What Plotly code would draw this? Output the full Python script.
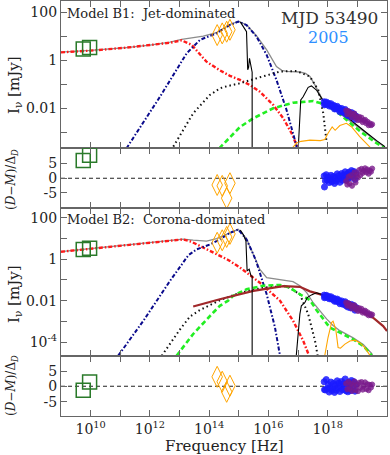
import plotly.graph_objects as go
from plotly.subplots import make_subplots

# ---------------- data (log10 frequency [Hz], log10 flux [mJy]) ----------------
# Model B1 components
red_b1_x = [9.0, 10.0, 11.2, 12.0, 12.68, 13.07, 13.41, 13.65, 13.91, 14.36, 14.70, 15.04, 15.4, 15.71, 16.16, 16.50, 16.78, 16.97, 17.05]
red_b1_y = [0.33, 0.40, 0.525, 0.62, 0.73, 0.83, 0.64, 0.30, -0.06, -0.42, -0.65, -0.82, -1.05, -1.31, -1.86, -2.42, -3.04, -3.6, -3.9]
blue_b1_x = [11.21, 12.34, 13.24, 13.69, 14.25, 14.5, 14.70, 14.98, 15.26, 15.60, 15.94, 16.27, 16.61, 16.89, 16.97]
blue_b1_y = [-3.67, -1.52, 0.29, 0.85, 1.125, 1.30, 1.47, 1.61, 1.47, 0.98, 0.22, -0.82, -2.07, -3.32, -3.7]
dot_b1_x = [12.79, 13.46, 14.02, 14.36, 14.64, 15.04, 15.71, 16.39, 16.95, 17.40, 17.68, 17.85, 17.96]
dot_b1_y = [-3.6, -2.21, -1.45, -1.17, -1.07, -0.96, -0.71, -0.47, -0.45, -0.68, -1.24, -2.21, -3.4]
green_b1_x = [14.34, 15.04, 15.49, 16.16, 16.83, 17.51, 17.96, 18.41, 19.08, 19.65, 19.93]
green_b1_y = [-3.67, -2.78, -2.42, -2.0, -1.77, -1.70, -1.86, -2.25, -2.95, -3.46, -3.67]
gray_b1_x = [9.0, 10.0, 11.2, 12.0, 12.68, 13.07, 13.41, 13.8, 14.25, 14.5, 14.70, 14.98, 15.26, 15.60, 15.94,
             16.27, 16.45, 16.61, 17.06, 17.25, 17.40, 17.6, 17.74, 17.9, 18.2, 18.52, 19.08, 19.65, 19.93]
gray_b1_y = [0.34, 0.41, 0.53, 0.63, 0.76, 0.87, 0.93, 1.01, 1.15, 1.32, 1.49, 1.62, 1.48, 1.01, 0.43,
             -0.26, -0.42, -0.46, -0.49, -0.55, -0.68, -1.1, -1.45, -1.77, -2.0, -2.32, -2.83, -3.39, -3.62]
black_b1_x = [15.05, 15.2, 15.26, 15.30, 15.33, 15.36, 15.43, 15.45, 15.45, None,
              17.0, 17.06, 17.09, 17.17, 17.34, 17.45, 17.62, 17.79, 17.90, 18.52, 18.86, 19.31, 19.65, 19.93]
black_b1_y = [1.60, 1.30, 1.19, -0.40, -0.30, 0.08, -0.47, -0.50, -3.8, None,
              -3.8, -2.07, -1.65, -1.52, -1.13, -1.07, -1.24, -1.58, -1.80, -2.24, -2.56, -3.02, -3.35, -3.6]
orange_b1_x = [16.78, 16.95, 17.1, 17.4, 17.75, 17.9, 18.01, 18.15, 18.25, 18.41, 18.63, 18.80, 19.08, 19.31, 19.48]
orange_b1_y = [-3.69, -3.45, -3.38, -3.33, -3.35, -3.30, -3.04, -2.78, -2.92, -2.72, -2.63, -2.77, -3.18, -3.46, -3.69]

# Model B2 components
red_b2_x = [9.0, 10.0, 11.2, 12.34, 13.12, 13.4, 13.69, 14.25, 14.64, 15.04, 15.71, 16.39, 16.83, 17.17, 17.37]
red_b2_y = [0.365, 0.51, 0.67, 0.83, 0.96, 0.85, 0.64, 0.27, -0.03, -0.40, -1.13, -2.0, -2.97, -3.93, -4.66]
blue_b2_x = [10.93, 11.78, 12.68, 13.3, 13.58, 14.03, 14.36, 14.59, 14.70, 14.98, 15.26, 15.49, 15.60, 15.94, 16.22, 16.39]
blue_b2_y = [-4.66, -2.97, -1.04, 0.2, 0.48, 0.72, 0.96, 1.20, 1.28, 1.44, 0.96, 0.24, -0.16, -1.69, -3.29, -4.66]
dot_b2_x = [12.40, 13.01, 13.35, 13.69, 14.36, 15.04, 15.82, 16.61, 17.06, 17.34, 17.57, 17.66]
dot_b2_y = [-4.66, -3.4, -2.77, -2.45, -1.98, -1.62, -1.37, -1.29, -1.69, -2.65, -3.93, -4.66]
green_b2_x = [12.90, 13.46, 14.14, 14.36, 14.64, 14.81, 15.26, 15.82, 16.39, 16.72, 17.06, 17.40, 17.62, 17.90, 18.07, 18.41, 18.86, 19.20, 19.48]
green_b2_y = [-4.66, -3.61, -2.57, -2.25, -2.0, -1.76, -1.45, -1.28, -1.24, -1.37, -1.69, -1.97, -2.45, -2.99, -3.30, -3.54, -3.87, -4.19, -4.63]
brown_b2_x = [13.46, 14.36, 15.49, 16.5, 17.06, 17.40, 17.96, 18.52, 18.97, 19.53, 19.87, 20.0]
brown_b2_y = [-2.28, -1.93, -1.53, -1.30, -1.33, -1.55, -1.78, -2.10, -2.43, -2.82, -3.23, -3.47]
gray_b2_x = [9.0, 10.0, 11.2, 12.34, 13.12, 13.46, 13.91, 14.25, 14.59, 14.98, 15.26, 15.49, 15.71, 15.94, 16.27,
             16.83, 17.06, 17.29, 17.51, 17.74, 17.96, 18.18, 18.41, 18.86, 19.20, 19.48, 19.52]
gray_b2_y = [0.37, 0.52, 0.68, 0.84, 0.98, 0.93, 0.88, 1.0, 1.22, 1.45, 1.0, 0.24, -0.49, -0.89, -0.97,
             -1.08, -1.28, -1.61, -2.1, -2.5, -2.88, -3.2, -3.45, -3.8, -4.12, -4.55, -4.66]
black_b2_x = [15.05, 15.15, 15.24, 15.28, 15.35, 15.41, 15.45, 15.45, None,
              16.93, 17.0, 17.06, 17.11, 17.23, 17.31, 17.45, 17.62, 17.90]
black_b2_y = [1.42, 1.20, 0.88, -0.56, -0.48, -0.80, -0.82, -4.8, None,
              -4.8, -3.45, -2.65, -2.25, -2.09, -1.85, -1.72, -1.62, -1.75]
orange_b2_x = [17.90, 18.01, 18.13, 18.18, 18.27, 18.35, 18.43, 18.58, 18.75, 18.92, 19.08, 19.25, 19.42]
orange_b2_y = [-4.66, -3.78, -3.06, -2.99, -3.38, -4.27, -4.30, -4.10, -3.95, -3.91, -4.03, -4.27, -4.63]

# Observations
radio_x = [9.75, 9.965]
radio_y = [0.47, 0.53]
radio_res_b1 = [6.0, 7.8]
radio_res_b2 = [-1.3, 1.4]

opt_x = [14.27, 14.44, 14.59, 14.70]
opt_y_b1 = [1.05, 1.12, 1.19, 1.27]
opt_y_b2 = [0.80, 0.92, 1.08, 1.23]
opt_res_b1 = [-2.3, -2.6, -6.8, -1.7]
opt_res_b2 = [3.1, 1.5, -1.8, 0.2]

xb_x = [17.89, 17.88, 17.92, 17.95, 17.98, 18.02, 18.05, 18.08, 18.11, 18.14, 18.17, 18.20, 18.23, 18.26, 18.29, 18.32,
        18.35, 18.38, 18.41, 18.44, 18.47, 18.50, 18.53, 18.56, 18.59, 18.62, 18.65, 18.68, 18.71, 18.74,
        18.77, 18.80, 18.84, 18.88, 18.92, 18.96]
xb_y = [-1.86, -1.73, -1.83, -1.74, -1.83, -1.79, -1.91, -1.86, -1.81, -1.93, -1.92, -1.88, -2.03, -1.94, -2.03, -1.92,
        -2.04, -1.99, -2.15, -2.06, -2.01, -2.17, -2.09, -2.17, -2.05, -2.25, -2.15, -2.31, -2.16, -2.24,
        -2.35, -2.18, -2.34, -2.24, -2.46, -2.33]
xb_res_b1 = [-3.0, 0.8, -0.9, 1.2, -0.6, 0.4, -1.5, -0.4, 1.0, -1.2, -0.8, 0.6, -1.8, 0.2, -1.0, 1.5,
             -0.3, 0.9, -1.4, 0.3, 1.6, -0.7, 1.1, 0.0, 2.2, -0.5, 1.4, -0.2, 2.0, 0.9,
             0.3, 2.6, 0.7, 2.3, -0.4, 1.8]
xb_res_b2 = [-1.1, 1.5, -1.2, 2.2, -0.8, 0.6, -1.9, -0.5, 1.4, -1.4, -0.9, 0.9, -2.0, 0.3, -1.3, 1.8,
             -0.6, 1.1, -1.7, 0.2, 1.6, -1.1, 0.8, -0.9, 2.4, -1.5, 0.9, -1.8, 1.3, 0.1,
             -1.4, 1.9, -0.7, 1.5, -1.6, 0.6]

xp_x = [18.62, 18.66, 18.70, 18.74, 18.78, 18.82, 18.86, 18.90, 18.94, 18.98, 19.02, 19.06, 19.10, 19.14,
        19.18, 19.22, 19.26, 19.30, 19.34, 19.38, 19.42, 19.46, 19.50]
xp_y = [-2.09, -2.25, -2.12, -2.26, -2.20, -2.38, -2.26, -2.22, -2.41, -2.35, -2.50, -2.36, -2.48, -2.39,
        -2.58, -2.51, -2.48, -2.63, -2.56, -2.71, -2.63, -2.71, -2.67]
xp_res_b1 = [-1.0, -2.2, 0.5, -1.8, 1.0, -2.6, 0.0, 2.0, -1.5, 1.2, 0.2, 2.8, 1.0, 3.2,
             1.8, 2.5, 3.4, 2.0, 3.0, 1.5, 2.6, 2.2, 3.3]
xp_res_b2 = [0.9, -1.0, 1.5, -0.6, 0.8, -1.5, 0.3, 1.6, -1.2, 0.4, -1.6, 1.2, -0.5, 1.4,
             -1.1, 0.2, 1.3, -0.9, 0.7, -1.3, 0.5, -0.4, 0.6]

# ticks
x_major_exp = [10, 12, 14, 16, 18]
x_major_lab = ["10<sup>10</sup>", "10<sup>12</sup>", "10<sup>14</sup>", "10<sup>16</sup>", "10<sup>18</sup>"]
x_minor_exp = [9, 11, 13, 15, 17, 19, 20]
y1_major_exp = [-2, 0, 2]
y1_major_lab = ["0.01", "1", "100"]
y1_minor_exp = [-3, -1, 1]
y3_major_exp = [-4, -2, 0, 2]
y3_major_lab = ["10<sup>-4</sup>", "0.01", "1", "100"]
y3_minor_exp = [-3, -1, 1]
res_ticks = [-5, 0, 5]
res_tick_lab = ["-5", "0", "5"]


def P(a):
    return [None if v is None else 10.0 ** v for v in a]


FONT = "DejaVu Serif"
fig = make_subplots(rows=4, cols=1, shared_xaxes=True, vertical_spacing=0)


def line(x, y, row, color, width, dash="solid"):
    fig.add_trace(go.Scatter(x=P(x), y=P(y), mode="lines", line=dict(color=color, width=width, dash=dash),
                             showlegend=False, hoverinfo="skip", connectgaps=False), row=row, col=1)


for (rx, ry, bx, by, dx, dy, gx, gy, tx, ty, kx, ky, ox, oy, row) in [
    (red_b1_x, red_b1_y, blue_b1_x, blue_b1_y, dot_b1_x, dot_b1_y, green_b1_x, green_b1_y,
     gray_b1_x, gray_b1_y, black_b1_x, black_b1_y, orange_b1_x, orange_b1_y, 1),
    (red_b2_x, red_b2_y, blue_b2_x, blue_b2_y, dot_b2_x, dot_b2_y, green_b2_x, green_b2_y,
     gray_b2_x, gray_b2_y, black_b2_x, black_b2_y, orange_b2_x, orange_b2_y, 3)]:
    line(tx, ty, row, "#8c8c8c", 1.3)
    line(rx, ry, row, "#ff1a1a", 2.4, "4px,2px,1.5px,2px")
    line(bx, by, row, "#0a0a8c", 2.0, "4px,2px,1.5px,2px")
    line(dx, dy, row, "#111111", 2.0, "1.5px,3px")
    line(gx, gy, row, "#22ee22", 2.6, "5px,3px")
    if row == 3:
        line(brown_b2_x, brown_b2_y, row, "#a0282a", 2.2)
    line(kx, ky, row, "#000000", 1.1)
    line(ox, oy, row, "#ffa500", 1.1)

# zero lines in residual panels
for row in (2, 4):
    fig.add_trace(go.Scatter(x=[1e9, 1e20], y=[0, 0], mode="lines",
                             line=dict(color="#222", width=1.1, dash="4px,3px"),
                             showlegend=False, hoverinfo="skip"), row=row, col=1)


def pts(x, y, row, color, size, symbol, log=True, opacity=1.0, lw=1.0):
    fig.add_trace(go.Scatter(x=P(x), y=P(y) if log else y, mode="markers",
                             marker=dict(color=color, size=size, symbol=symbol, opacity=opacity,
                                         line=dict(color=color, width=lw)),
                             showlegend=False, hoverinfo="skip"), row=row, col=1)


# flux panels
for row, oy in ((1, opt_y_b1), (3, opt_y_b2)):
    pts(xb_x, xb_y, row, "#1a1aff", 6, "circle", opacity=0.85)
    pts(xp_x, xp_y, row, "#7a1a8c", 5, "circle", opacity=0.8)
    pts(opt_x, oy, row, "#ffa500", 15, "diamond-tall-open")
    pts(radio_x, radio_y, row, "#2a7a2a", 14, "square-open", lw=1.5)

# residual panels
for row, rr, orr, xbr, xpr in ((2, radio_res_b1, opt_res_b1, xb_res_b1, xp_res_b1),
                               (4, radio_res_b2, opt_res_b2, xb_res_b2, xp_res_b2)):
    pts(xb_x, xbr, row, "#1a1aff", 6, "circle", log=False, opacity=0.85)
    pts(xp_x, xpr, row, "#7a1a8c", 5, "circle", log=False, opacity=0.8)
    pts(opt_x, orr, row, "#ffa500", 15, "diamond-tall-open", log=False)
    pts(radio_x, rr, row, "#2a7a2a", 14, "square-open", log=False, lw=1.5)

AX = "#666666"
tickfont = dict(family=FONT, size=14, color="#222")
minor_style = dict(ticks="inside", ticklen=6, tickcolor=AX, tickmode="array")
for i in range(1, 5):
    fig.update_layout(**{f"xaxis{'' if i == 1 else i}": dict(
        type="log", range=[9, 20], tickmode="array", tickvals=[10.0 ** k for k in x_major_exp],
        ticktext=x_major_lab, showticklabels=(i == 4), ticks="inside", ticklen=6, tickcolor=AX,
        minor=dict(tickvals=[10.0 ** k for k in x_minor_exp], **minor_style),
        mirror="allticks", showline=True, linecolor=AX, linewidth=1.3, showgrid=False, zeroline=False,
        tickfont=tickfont, automargin=False)})

H = 415.0
def dom(top_px, bot_px):
    return [max(0.0, (416 - bot_px) / H), min(1.0, (416 - top_px) / H)]

ycommon = dict(ticks="inside", ticklen=6, tickcolor=AX, mirror="allticks", showline=True, linecolor=AX,
               linewidth=1.3, showgrid=False, zeroline=False, tickfont=tickfont, automargin=False,
               tickmode="array")
fig.update_layout(
    yaxis=dict(type="log", range=[-3.67, 2.47], tickvals=[10.0 ** k for k in y1_major_exp], ticktext=y1_major_lab,
               minor=dict(tickvals=[10.0 ** k for k in y1_minor_exp], **minor_style),
               domain=dom(1, 148.3), **ycommon),
    yaxis2=dict(range=[-10.15, 10.2], tickvals=res_ticks, ticktext=res_tick_lab, domain=dom(148.3, 208), **ycommon),
    yaxis3=dict(type="log", range=[-4.66, 2.48], tickvals=[10.0 ** k for k in y3_major_exp], ticktext=y3_major_lab,
                minor=dict(tickvals=[10.0 ** k for k in y3_minor_exp], **minor_style),
                domain=dom(208, 355.7), **ycommon),
    yaxis4=dict(range=[-9.7, 10.0], tickvals=res_ticks, ticktext=res_tick_lab, domain=dom(355.7, 416), **ycommon),
)


def px2paper(px, py):
    return (px - 61) / 326.0, (416 - py) / H


def ann(text, px, py, size, color="#222", xanchor="center", angle=0):
    x, y = px2paper(px, py)
    fig.add_annotation(text=text, x=x, y=y, xref="paper", yref="paper", showarrow=False, xanchor=xanchor,
                       yanchor="middle", textangle=angle, font=dict(family=FONT, size=size, color=color))


ann("Model B1:  Jet-dominated", 65, 13, 13, xanchor="left")
ann("Model B2:  Corona-dominated", 65, 219, 13, xanchor="left")
ann("MJD 53490", 329, 18, 17, color="#333")
ann("2005", 328, 38, 16, color="#2e8fff")
ann("I<sub>ν</sub> [mJy]", 14, 85, 15, angle=-90)
ann("I<sub>ν</sub> [mJy]", 14, 294, 15, angle=-90)
ann("(<i>D</i>−<i>M</i>)/Δ<sub><i>D</i></sub>", 12, 180, 12, angle=-90)
ann("(<i>D</i>−<i>M</i>)/Δ<sub><i>D</i></sub>", 12, 386, 12, angle=-90)
ann("Frequency [Hz]", 224, 446, 15)

fig.update_layout(width=390, height=455, margin=dict(l=61, r=3, t=1, b=39, autoexpand=False),
                  plot_bgcolor="white", paper_bgcolor="white", showlegend=False)

fig.write_html("out.html", config={"displayModeBar": False},
               post_script="document.body.style.margin='0px';document.body.style.padding='0px';")
